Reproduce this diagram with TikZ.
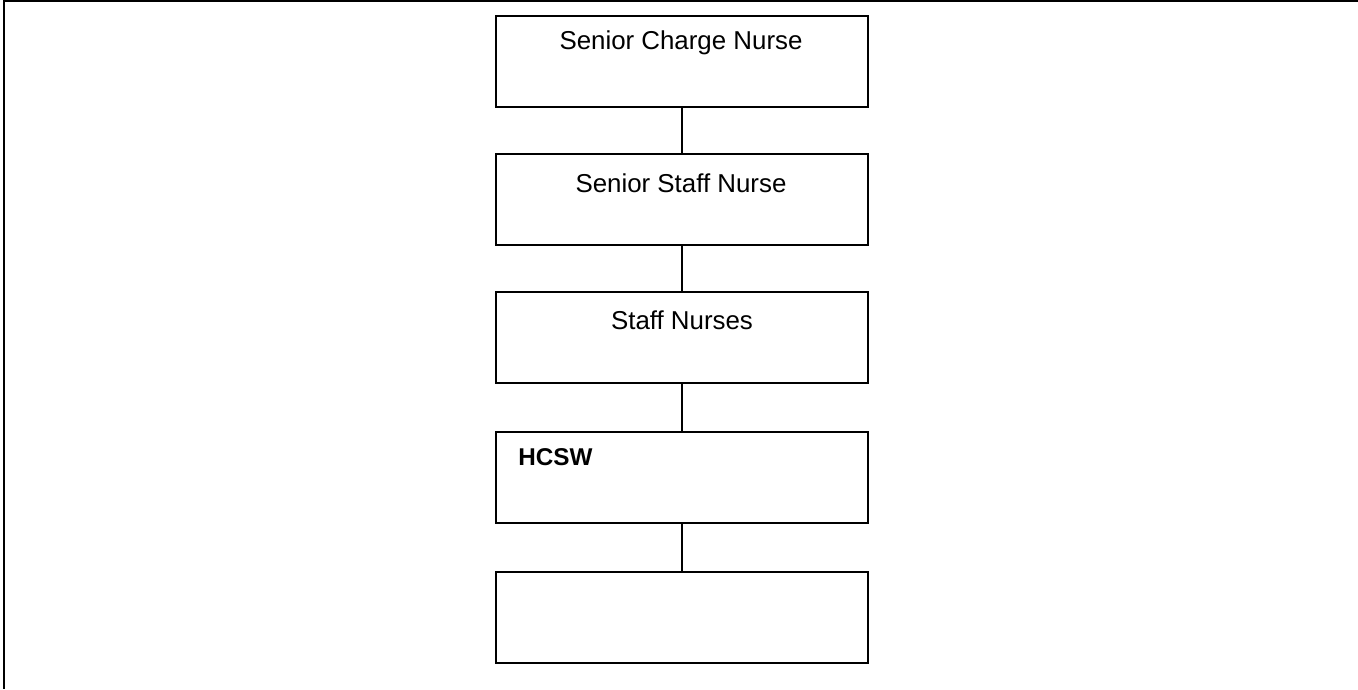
\documentclass[tikz,border=0pt]{standalone}
\usepackage{fontspec}
\setmainfont{Liberation Sans}
\usepackage{tikz}
\usetikzlibrary{positioning}

\begin{document}
\begin{tikzpicture}[x=0.75pt,y=-0.75pt,
    post/.style={draw,line width=1.5pt,minimum width=372*0.75pt,minimum height=91*0.75pt,inner sep=0pt},
    title/.style={anchor=base,inner sep=0pt,font=\fontsize{19.4}{23}\selectfont},
    link/.style={line width=1.2pt}]

  \useasboundingbox (0,0) rectangle (1358,689);
  \draw[line width=1.6pt] (1358,1) -- (4,1) -- (4,689);

  \node[post] (SCN) at (682,61) {};
  \node[post] (SSN) at (682,199) {};
  \node[post] (SN)  at (682,337.5) {};
  \node[post] (HC)  at (682,477) {};
  \node[post] (LOW) at (682,617) {};

  \node[title] (SCNt) at (681,49) {Senior Charge Nurse};
  \node[title] (SSNt) at (681,192) {Senior Staff Nurse};
  \node[title] (SNt)  at (682,329) {Staff Nurses};
  \node[title,anchor=base west,font=\fontsize{18.2}{22}\selectfont\bfseries] (HCt) at (518,465) {HCSW};

  \draw[link] (SCN.south) -- (SSN.north);
  \draw[link] (SSN.south) -- (SN.north);
  \draw[link] (SN.south) -- (HC.north);
  \draw[link] (HC.south) -- (LOW.north);

\end{tikzpicture}
\end{document}
